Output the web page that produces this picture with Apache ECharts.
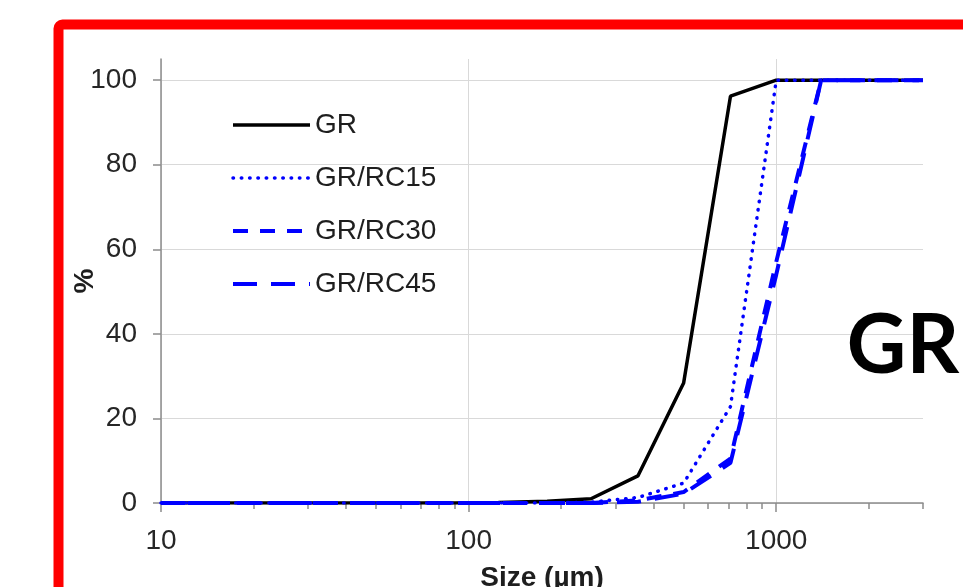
<!DOCTYPE html>
<html>
<head>
<meta charset="utf-8">
<title>Particle size distribution</title>
<script src="https://cdn.jsdelivr.net/npm/echarts@6/dist/echarts.min.js"></script>
<style>
  html, body { margin: 0; padding: 0; background: #ffffff; }
  #chart { width: 963px; height: 587px; }
</style>
</head>
<body>
<div id="chart"></div>
<script>
// Sieve sizes (µm) and cumulative passing (%) for each mix
const sizes      = [10, 20, 30, 45, 63, 90, 125, 180, 250, 355, 500, 710, 1000, 1400, 2000, 3000];
const grValues   = [0, 0, 0, 0, 0, 0, 0.1, 0.4, 1.0, 6.4, 28.4, 96.2, 100, 100, 100, 100];
const rc15Values = [0, 0, 0, 0, 0, 0, 0, 0, 0.2, 1.3, 4.7, 22.8, 100, 100, 100, 100];
const rc30Values = [0, 0, 0, 0, 0, 0, 0, 0, 0, 0.6, 2.6, 10.5, 57, 100, 100, 100];
const rc45Values = [0, 0, 0, 0, 0, 0, 0, 0, 0, 0.3, 2.2, 9.5, 54, 100, 100, 100];

const seriesNames = ['GR', 'GR/RC15', 'GR/RC30', 'GR/RC45'];

// Axis tick positions
const yTicks      = [0, 20, 40, 60, 80, 100];
const xMajorTicks = [10, 100, 1000];
const xMinorTicks = [20, 30, 40, 50, 60, 70, 80, 90,
                     200, 300, 400, 500, 600, 700, 800, 900,
                     2000, 3000];

const FONT = 'Arial, "Liberation Sans", sans-serif';
const AXIS_GREY = '#8c8c8c';
const GRID_GREY = '#d9d9d9';
const BLUE = '#0000ff';

function toPairs(values) {
  return sizes.map((s, i) => [s, values[i]]);
}

const chart = echarts.init(document.getElementById('chart'), null, { renderer: 'canvas' });

chart.setOption({
  backgroundColor: '#ffffff',
  animation: false,
  grid: { left: 161, right: 40, top: 59, bottom: 84, containLabel: false, outerBoundsMode: 'none' },
  legend: {
    orient: 'vertical',
    left: 231,
    top: 111,
    padding: 0,
    itemWidth: 77,
    itemHeight: 14,
    itemGap: 25,
    data: seriesNames,
    itemStyle: { opacity: 0 },
    lineStyle: { width: 'inherit' },
    textStyle: { fontFamily: FONT, fontSize: 28, lineHeight: 28, color: '#1e1e1e' }
  },
  xAxis: [
    {
      // minor ticks
      type: 'log',
      logBase: 10,
      min: 10,
      max: 3000,
      position: 'bottom',
      axisLine: { show: true, onZero: false, lineStyle: { color: AXIS_GREY, width: 1.5 } },
      axisTick: { show: true, length: 6, customValues: xMinorTicks, lineStyle: { color: AXIS_GREY, width: 1.5 } },
      axisLabel: { show: false },
      splitLine: { show: false },
      minorTick: { show: false },
      minorSplitLine: { show: false }
    },
    {
      // decades: labels, long ticks and vertical grid lines
      type: 'log',
      logBase: 10,
      min: 10,
      max: 3000,
      position: 'bottom',
      axisLine: { show: false, onZero: false },
      axisTick: { show: true, length: 9, customValues: xMajorTicks, lineStyle: { color: AXIS_GREY, width: 1.5 } },
      axisLabel: {
        show: true,
        customValues: xMajorTicks,
        formatter: (v) => String(Math.round(v)),
        margin: 24,
        fontFamily: FONT,
        fontSize: 28,
        color: '#262626'
      },
      splitLine: { show: true, lineStyle: { color: GRID_GREY, width: 1 } },
      name: 'Size (µm)',
      nameLocation: 'middle',
      nameGap: 61,
      nameMoveOverlap: false,
      nameTextStyle: { fontFamily: FONT, fontSize: 28, fontWeight: 'bold', color: '#1e1e1e' }
    }
  ],
  yAxis: {
    type: 'value',
    min: 0,
    max: 105,
    interval: 20,
    axisLine: { show: true, onZero: false, lineStyle: { color: AXIS_GREY, width: 1.5 } },
    axisTick: { show: true, length: 8, customValues: yTicks, lineStyle: { color: AXIS_GREY, width: 1.5 } },
    axisLabel: {
      customValues: yTicks,
      margin: 24,
      fontFamily: FONT,
      fontSize: 28,
      color: '#262626'
    },
    splitLine: { show: true, lineStyle: { color: GRID_GREY, width: 1 } },
    name: '%',
    nameLocation: 'middle',
    nameGap: 62,
    nameRotate: 90,
    nameMoveOverlap: false,
    nameTextStyle: { fontFamily: FONT, fontSize: 28, fontWeight: 'bold', color: '#1e1e1e' }
  },
  series: [
    {
      name: 'GR',
      type: 'line',
      xAxisIndex: 0,
      data: toPairs(grValues),
      symbol: 'none',
      lineStyle: { color: '#000000', width: 3.5, type: 'solid' },
      itemStyle: { color: '#000000' }
    },
    {
      name: 'GR/RC15',
      type: 'line',
      xAxisIndex: 0,
      data: toPairs(rc15Values),
      symbol: 'none',
      lineStyle: { color: BLUE, width: 3.5, type: [0.5, 7.8], cap: 'round' },
      itemStyle: { color: BLUE }
    },
    {
      name: 'GR/RC30',
      type: 'line',
      xAxisIndex: 0,
      data: toPairs(rc30Values),
      symbol: 'none',
      lineStyle: { color: BLUE, width: 4, type: [15, 12] },
      itemStyle: { color: BLUE }
    },
    {
      name: 'GR/RC45',
      type: 'line',
      xAxisIndex: 0,
      data: toPairs(rc45Values),
      symbol: 'none',
      lineStyle: { color: BLUE, width: 4, type: [24, 14] },
      itemStyle: { color: BLUE }
    }
  ],
  graphic: [
    {
      type: 'rect',
      silent: true,
      z: 100,
      shape: { x: 58.5, y: 24.5, width: 1000, height: 700, r: 4 },
      style: { fill: null, stroke: '#ff0000', lineWidth: 10 }
    },
    {
      type: 'text',
      silent: true,
      z: 100,
      style: {
        text: 'GR',
        x: 903,
        y: 347,
        align: 'center',
        verticalAlign: 'middle',
        fontFamily: 'Lato, "Open Sans", sans-serif',
        fontWeight: 'bold',
        fontSize: 82,
        fill: '#000000'
      }
    }
  ]
});
</script>
</body>
</html>
